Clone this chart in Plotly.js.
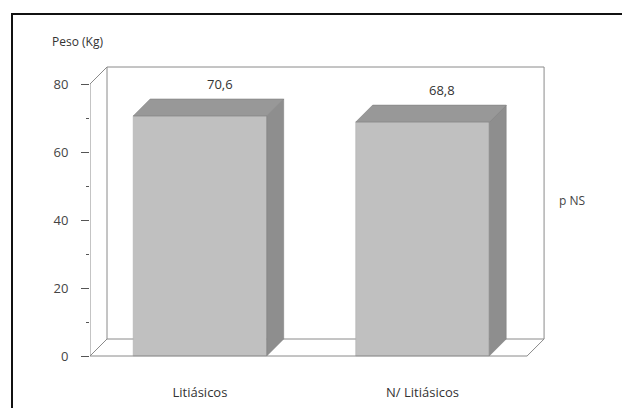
<!DOCTYPE html>
<html>
<head>
<meta charset="utf-8">
<script src="https://cdn.plot.ly/plotly-3.0.1.min.js"></script>
<style>
  html, body { margin: 0; padding: 0; background: #ffffff; overflow: hidden; }
  #wrap { position: relative; width: 622px; height: 408px; overflow: hidden; }
  #chart { width: 622px; height: 408px; }
  #frame { position: absolute; left: 11px; top: 13px; width: 640px; height: 420px;
           border-left: 2px solid #111; border-top: 2px solid #111; pointer-events: none; }
</style>
</head>
<body>
<div id="wrap"><div id="chart"></div><div id="frame"></div></div>
<script>
// ---- data ----
const categories = ["Litiásicos", "N/ Litiásicos"];
const pesoValues = [70.6, 68.8];
const valueLabels = ["70,6", "68,8"];
const yTicks = [0, 20, 40, 60, 80];
const yTitle = "Peso (Kg)";
const pNote = "p NS";

// ---- style / geometry constants ----
const BAR_W = 0.6;
const DX = 0.0764;   // depth in x units
const DY = 5.0;      // depth in y units
const X_MIN = -0.494, X_MAX = 1.618;
const Y_MIN = -1.176, Y_MAX = 87.06;
const Y_TOP = yTicks[yTicks.length - 1];
const FLOOR_RIGHT = 1.47;
const lineCol = "#8a8a8a";
const frontCol = "#c0c0c0", sideCol = "#8e8e8e", topCol = "#989898";

const xs = categories.map((c, i) => i);

const traces = [];
// front faces
traces.push({
  type: "bar", x: xs, y: pesoValues, width: BAR_W,
  marker: { color: frontCol, line: { color: "#aaaaaa", width: 0.5 } },
  hoverinfo: "skip", showlegend: false
});
// side and top faces
xs.forEach((x, i) => {
  const v = pesoValues[i];
  const l = x - BAR_W / 2, r = x + BAR_W / 2;
  traces.push({
    type: "scatter", mode: "lines", fill: "toself", fillcolor: sideCol,
    line: { color: "#7a7a7a", width: 0.5 },
    x: [r, r + DX, r + DX, r, r], y: [0, DY, v + DY, v, 0],
    hoverinfo: "skip", showlegend: false
  });
  traces.push({
    type: "scatter", mode: "lines", fill: "toself", fillcolor: topCol,
    line: { color: "#7a7a7a", width: 0.5 },
    x: [l, l + DX, r + DX, r, l], y: [v, v + DY, v + DY, v, v],
    hoverinfo: "skip", showlegend: false
  });
});

const wl = X_MIN + DX, wr = FLOOR_RIGHT + DX;
const seg = (x0, y0, x1, y1, layer) => ({
  type: "line", xref: "x", yref: "y", x0, y0, x1, y1,
  line: { color: lineCol, width: 1 }, layer: layer || "below"
});
const shapes = [
  // back wall
  seg(wl, DY, wl, Y_TOP + DY), seg(wl, Y_TOP + DY, wr, Y_TOP + DY), seg(wr, Y_TOP + DY, wr, DY),
  // floor
  seg(wl, DY, wr, DY), seg(X_MIN, 0, wl, DY), seg(FLOOR_RIGHT, 0, wr, DY),
  seg(X_MIN, Y_TOP, wl, Y_TOP + DY),
  // axis lines
  seg(X_MIN, 0, X_MIN, Y_TOP, "above"), seg(X_MIN, 0, FLOOR_RIGHT, 0, "above")
];

const annotations = valueLabels.map((t, i) => ({
  x: xs[i] + DX / 2 + 0.05, y: pesoValues[i] + 9.5, xref: "x", yref: "y",
  text: t, showarrow: false, font: { family: "Open Sans", size: 13, color: "#333" }
}));
annotations.push({
  x: -0.085, y: 1.06, xref: "paper", yref: "paper", xanchor: "left", yanchor: "middle",
  text: yTitle, showarrow: false, font: { family: "Open Sans", size: 12, color: "#333" }
});
annotations.push({
  x: 1.0255, y: 0.533, xref: "paper", yref: "paper", xanchor: "center", yanchor: "middle",
  text: pNote, showarrow: false, font: { family: "Open Sans", size: 12, color: "#444" }
});

const layout = {
  width: 622, height: 408,
  margin: { l: 90, r: 62, t: 60, b: 48 },
  paper_bgcolor: "#ffffff", plot_bgcolor: "rgba(0,0,0,0)",
  showlegend: false,
  xaxis: {
    range: [X_MIN, X_MAX], showgrid: false, zeroline: false, showline: false,
    tickmode: "array", tickvals: xs, ticktext: categories, ticks: "",
    ticklabelstandoff: 23,
    tickfont: { family: "Open Sans", size: 13, color: "#333" }, fixedrange: true
  },
  yaxis: {
    range: [Y_MIN, Y_MAX], showgrid: false, zeroline: false, showline: false,
    tickmode: "array", tickvals: yTicks, ticks: "outside", ticklen: 8,
    tickcolor: "#555", tickwidth: 1, ticklabelstandoff: 10,
    minor: { tickvals: [10, 30, 50, 70], ticks: "outside", ticklen: 3, tickcolor: "#555" },
    tickfont: { family: "Open Sans", size: 13, color: "#444" }, fixedrange: true
  },
  shapes, annotations
};

Plotly.newPlot("chart", traces, layout, { displayModeBar: false, staticPlot: true });
</script>
</body>
</html>
